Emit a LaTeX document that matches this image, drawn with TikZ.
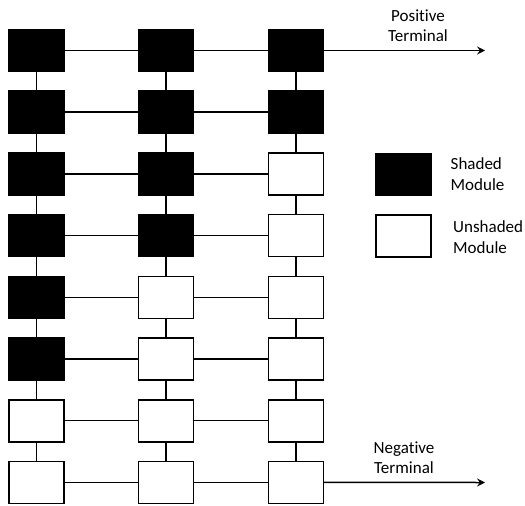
\documentclass[tikz,border=0pt]{standalone}
\usepackage{fontspec}
\setmainfont[Ligatures={NoCommon}]{Carlito}
\usetikzlibrary{arrows.meta}
\begin{document}
\begin{tikzpicture}[x=1pt,y=1pt,
  module/.style={draw=black,line width=1.6pt,minimum width=55pt,minimum height=42pt,inner sep=0pt,outer sep=0pt},
  shaded/.style={module,fill=black},
  unshaded/.style={module,fill=white},
  wire/.style={line width=1.5pt},
  term/.style={wire,-{Stealth[length=8pt,width=8pt,inset=3pt]}},
  lbl/.style={font=\fontsize{17}{20}\selectfont,align=center,inner sep=0pt},
  leg/.style={font=\fontsize{17}{21}\selectfont,align=left,inner sep=0pt,anchor=west}]
\useasboundingbox (0,0) rectangle (525,-506);
% grid of modules
\foreach \c/\x in {1/36.5,2/166,3/296}{
  \foreach \r in {1,...,8}{
    \pgfmathsetmacro{\yy}{-50.5-61.7*(\r-1)}
    \pgfmathtruncatemacro{\lim}{\c==1 ? 6 : (\c==2 ? 4 : 2)}
    \ifnum\r>\lim
      \node[unshaded] (m\c\r) at (\x,\yy) {};
    \else
      \node[shaded] (m\c\r) at (\x,\yy) {};
    \fi
  }
}
% horizontal wires
\foreach \r in {1,...,8}{
  \draw[wire] (m1\r) -- (m2\r);
  \draw[wire] (m2\r) -- (m3\r);
}
% vertical wires
\foreach \c in {1,2,3}{
  \foreach \r [evaluate=\r as \n using int(\r+1)] in {1,...,7}{
    \draw[wire] (m\c\r) -- (m\c\n);
  }
}
% terminals
\coordinate (pos) at (485,-50.5);
\coordinate (neg) at (485,-482.5);
\draw[term] (m31) -- (pos);
\draw[term] (m38) -- (neg);
\node[lbl] (plab) at (418,-26) {Positive\\Terminal};
\node[lbl] (nlab) at (404,-457.5) {Negative\\Terminal};
% legend
\node[shaded] (lshade) at (403.5,-174.5) {};
\node[unshaded] (lunshade) at (403.5,-236) {};
\node[leg] (tshade) at (450.5,-174.5) {Shaded\\Module};
\node[leg] (tunshade) at (453,-237.5) {Unshaded\\Module};
\end{tikzpicture}
\end{document}
